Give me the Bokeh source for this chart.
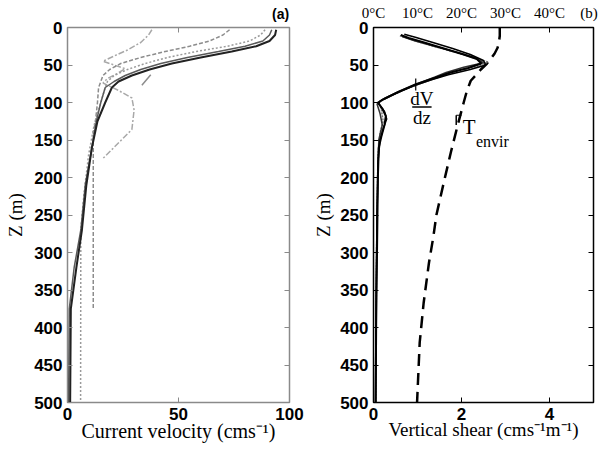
from bokeh.plotting import figure
from bokeh.models import Range1d, LinearAxis, FixedTicker, Label
from bokeh.layouts import row
from bokeh.embed import file_html
from bokeh.resources import INLINE

# ---------------- data ----------------
depth_ticks = [0, 50, 100, 150, 200, 250, 300, 350, 400, 450, 500]
vel_ticks = [0, 50, 100]
shear_ticks = [0, 2, 4]
temp_ticks = [0, 10, 20, 30, 40]
temp_tick_labels = ["0°C", "10°C", "20°C", "30°C", "40°C"]

# panel (a): current velocity profiles (cm/s) vs depth (m)
vel1_z = [3, 10, 18, 25, 32, 40, 48, 56, 64, 72, 80, 100, 125, 160, 210, 270, 320, 375, 500]
vel1_v = [94, 93.5, 91, 85, 74, 60, 47, 37, 29, 23, 20, 17, 13.5, 11, 8.5, 6.5, 4, 1.5, 1.2]

vel2_z = [3, 10, 18, 25, 32, 40, 48, 56, 64, 72, 80, 100, 125, 160, 210, 270, 320, 375, 500]
vel2_v = [92, 91, 88, 80, 68, 54, 42, 33, 26, 21, 17, 15, 13, 11, 8, 6, 3, 0.8, 0.5]

vel3_z = [3, 10, 18, 25, 32, 40, 48, 56, 64, 72, 80, 100, 130, 170, 220, 270, 500]
vel3_v = [89, 87, 82, 72, 58, 45, 35, 27, 21, 18, 17, 15, 12, 9.5, 7.5, 6, 5.9]

vel4_z = [3, 10, 18, 25, 32, 40, 48, 56, 64, 72, 80, 100, 125, 140, 375]
vel4_v = [73, 70, 64, 55, 44, 33, 24, 19, 16, 15, 14, 13.5, 12.6, 11.6, 11.6]

vel5_z = [3, 10, 20, 30, 38, 45, 50, 55, 62, 68, 74, 84, 94, 110, 136, 176]
vel5_v = [38, 36.5, 33, 27, 21, 16, 21, 26, 22, 18, 16, 23, 29, 30, 29, 15.5]

vel6_z = [63, 77]
vel6_v = [37.5, 33.5]

# panel (b): vertical shear profiles (cm/s/m) vs depth (m)
sh1_z = [10, 14, 20, 28, 36, 42, 48, 54, 60, 68, 76, 85, 95, 100, 108, 118, 130, 145, 160, 200, 300, 400, 500]
sh1_s = [0.62, 0.8, 1.15, 1.6, 2.05, 2.35, 2.45, 2.15, 1.75, 1.35, 0.95, 0.6, 0.25, 0.1, 0.2, 0.28, 0.25, 0.18, 0.12, 0.1, 0.08, 0.06, 0.05]

sh2_z = [9, 13, 20, 28, 36, 44, 50, 56, 63, 70, 78, 88, 98, 102, 112, 122, 135, 150, 180, 250, 350, 500]
sh2_s = [0.7, 0.95, 1.35, 1.8, 2.2, 2.5, 2.55, 2.2, 1.7, 1.3, 0.9, 0.5, 0.15, 0.12, 0.25, 0.3, 0.22, 0.15, 0.1, 0.08, 0.06, 0.05]

sh3_z = [11, 16, 24, 32, 40, 46, 52, 58, 66, 74, 82, 92, 100, 110, 125, 140, 170, 300, 500]
sh3_s = [0.6, 0.85, 1.3, 1.8, 2.25, 2.6, 2.35, 1.9, 1.5, 1.1, 0.75, 0.35, 0.12, 0.18, 0.22, 0.15, 0.1, 0.07, 0.05]

sh4_z = [12, 18, 26, 34, 40, 47, 53, 60, 66, 75, 86, 96, 102, 115, 130, 150, 250, 500]
sh4_s = [0.65, 0.95, 1.45, 1.95, 2.3, 2.5, 2.05, 1.65, 1.4, 1.0, 0.55, 0.2, 0.08, 0.15, 0.2, 0.12, 0.08, 0.04]

# environmental temperature (°C) vs depth (m)
temp_z = [0, 11, 20, 27, 35, 42, 48, 56, 64, 71, 85, 100, 131, 166, 206, 250, 279, 314, 367, 420, 500]
temp_c = [28.7, 28.7, 28.5, 28.2, 27.5, 26.6, 25.8, 24.4, 23.2, 22.1, 21.2, 20.5, 19.1, 17.6, 16.0, 14.3, 13.6, 12.6, 11.4, 10.5, 9.9]

SANS = "Liberation Sans"
SERIF = "Liberation Serif"


def style_axis(ax, ticks, color):
    ax.ticker = FixedTicker(ticks=ticks)
    ax.major_tick_in = 5
    ax.major_tick_out = 0
    ax.minor_tick_line_color = None
    ax.axis_line_color = color
    ax.major_tick_line_color = color
    ax.major_label_text_font = SANS
    ax.major_label_text_font_style = "bold"
    ax.major_label_text_font_size = "17px"
    ax.major_label_text_color = "black"
    ax.major_label_standoff = 5
    ax.axis_label_text_font = SERIF
    ax.axis_label_text_font_style = "normal"
    ax.axis_label_text_font_size = "19px"
    ax.axis_label_text_color = "black"


def mirror_axis(ticks, color, **kw):
    # tick marks only (as minor ticks, so that no labels are drawn)
    ax = LinearAxis(ticker=FixedTicker(ticks=[], minor_ticks=ticks), **kw)
    ax.minor_tick_in = 5
    ax.minor_tick_out = 0
    ax.minor_tick_line_color = color
    ax.major_tick_line_color = None
    ax.axis_line_color = color
    ax.major_label_standoff = 0
    return ax


# ---------------- panel (a) ----------------
pa = figure(width=305, height=451, x_range=Range1d(0, 100), y_range=Range1d(500, 0),
            output_backend="svg", toolbar_location=None,
            min_border_left=67, min_border_right=16, min_border_top=24, min_border_bottom=49)
pa.xgrid.visible = False
pa.ygrid.visible = False
pa.outline_line_color = "#8a8a8a"
pa.outline_line_width = 1.5
style_axis(pa.xaxis[0], vel_ticks, "#8a8a8a")
style_axis(pa.yaxis[0], depth_ticks, "#8a8a8a")
pa.xaxis[0].axis_label = "Current velocity (cms⁻¹)"
pa.xaxis[0].axis_label_standoff = -3
pa.xaxis[0].axis_label_text_font_size = "20px"
pa.yaxis[0].axis_label = "Z (m)"
pa.yaxis[0].axis_label_standoff = 5
pa.add_layout(mirror_axis(depth_ticks, "#8a8a8a"), "right")

# top: mirrored ticks plus the panel tag "(a)"
ta = LinearAxis(ticker=FixedTicker(ticks=[96], minor_ticks=vel_ticks))
ta.major_label_overrides = {96: "(a)"}
ta.major_tick_line_color = None
ta.minor_tick_in = 5
ta.minor_tick_out = 0
ta.minor_tick_line_color = "#8a8a8a"
ta.axis_line_color = "#8a8a8a"
ta.major_label_text_font = SANS
ta.major_label_text_font_style = "bold"
ta.major_label_text_font_size = "14px"
ta.major_label_text_color = "black"
ta.major_label_standoff = 0
pa.add_layout(ta, "above")

pa.line(vel5_v, vel5_z, line_color="#a8a8a8", line_width=1.5, line_dash="6 2 2 2")
pa.line(vel6_v, vel6_z, line_color="#8c8c8c", line_width=1.5)
pa.line(vel4_v, vel4_z, line_color="#8c8c8c", line_width=1.5, line_dash="4 2")
pa.line(vel3_v, vel3_z, line_color="#9a9a9a", line_width=1.5, line_dash="2 2")
pa.line(vel2_v, vel2_z, line_color="#5a5a5a", line_width=1.5)
pa.line(vel1_v, vel1_z, line_color="#222222", line_width=2)

# ---------------- panel (b) ----------------
pb = figure(width=305, height=451, x_range=Range1d(0, 5), y_range=Range1d(500, 0),
            output_backend="svg", toolbar_location=None,
            min_border_left=68, min_border_right=17, min_border_top=27, min_border_bottom=49)
pb.xgrid.visible = False
pb.ygrid.visible = False
pb.outline_line_color = "black"
pb.outline_line_width = 1.5
pb.extra_x_ranges = {"temp": Range1d(0, 50)}
style_axis(pb.xaxis[0], shear_ticks, "black")
style_axis(pb.yaxis[0], depth_ticks, "black")
pb.xaxis[0].axis_label = "Vertical shear (cms⁻¹m⁻¹)"
pb.xaxis[0].axis_label_standoff = -4
pb.xaxis[0].axis_label_text_font_size = "19px"
pb.yaxis[0].axis_label = "Z (m)"
pb.yaxis[0].axis_label_standoff = 3
pb.add_layout(mirror_axis(depth_ticks, "black"), "right")

# top: temperature scale of T_envir, mirrored shear ticks and the panel tag "(b)"
tb = LinearAxis(x_range_name="temp",
                ticker=FixedTicker(ticks=temp_ticks + [49], minor_ticks=[10 * s for s in shear_ticks]))
tb.major_tick_line_color = None
tb.minor_tick_in = 5
tb.minor_tick_out = 0
tb.minor_tick_line_color = "black"
tb.axis_line_color = "black"
tb.major_label_text_font = SERIF
tb.major_label_text_font_size = "15px"
tb.major_label_text_color = "black"
tb.major_label_standoff = 1
overrides = {t: l for t, l in zip(temp_ticks, temp_tick_labels)}
overrides[49] = "(b)"
tb.major_label_overrides = overrides
pb.add_layout(tb, "above")

pb.line(temp_c, temp_z, x_range_name="temp", line_color="black", line_width=2.5, line_dash="12 7")
pb.line(sh3_s, sh3_z, line_color="#777777", line_width=1.5, line_dash="2 1")
pb.line(sh4_s, sh4_z, line_color="#333333", line_width=1.5)
pb.line(sh2_s, sh2_z, line_color="black", line_width=1.5)
pb.line(sh1_s, sh1_z, line_color="black", line_width=2)

# annotations
pb.add_layout(Label(x=1.10, y=94, text="dV", text_align="center", text_baseline="middle",
                    text_font=SERIF, text_font_size="19px", text_color="black"))
pb.add_layout(Label(x=1.10, y=120, text="dz", text_align="center", text_baseline="middle",
                    text_font=SERIF, text_font_size="19px", text_color="black"))
pb.segment(x0=[0.88], y0=[106], x1=[1.32], y1=[106], line_color="black", line_width=1.5)
pb.segment(x0=[0.96], y0=[68], x1=[0.96], y1=[84], line_color="black", line_width=1.2)
pb.add_layout(Label(x=2.03, y=133, text="T", text_align="left", text_baseline="middle",
                    text_font=SERIF, text_font_size="21px", text_color="black"))
pb.add_layout(Label(x=2.33, y=152, text="envir", text_align="left", text_baseline="middle",
                    text_font=SERIF, text_font_size="16px", text_color="black"))
pb.segment(x0=[1.88], y0=[117], x1=[1.88], y1=[130], line_color="black", line_width=1.5)
pb.segment(x0=[1.88], y0=[117], x1=[2.0], y1=[117], line_color="black", line_width=1.2)

layout = row(pa, pb)
open("out.html", "w").write(file_html(layout, INLINE))
